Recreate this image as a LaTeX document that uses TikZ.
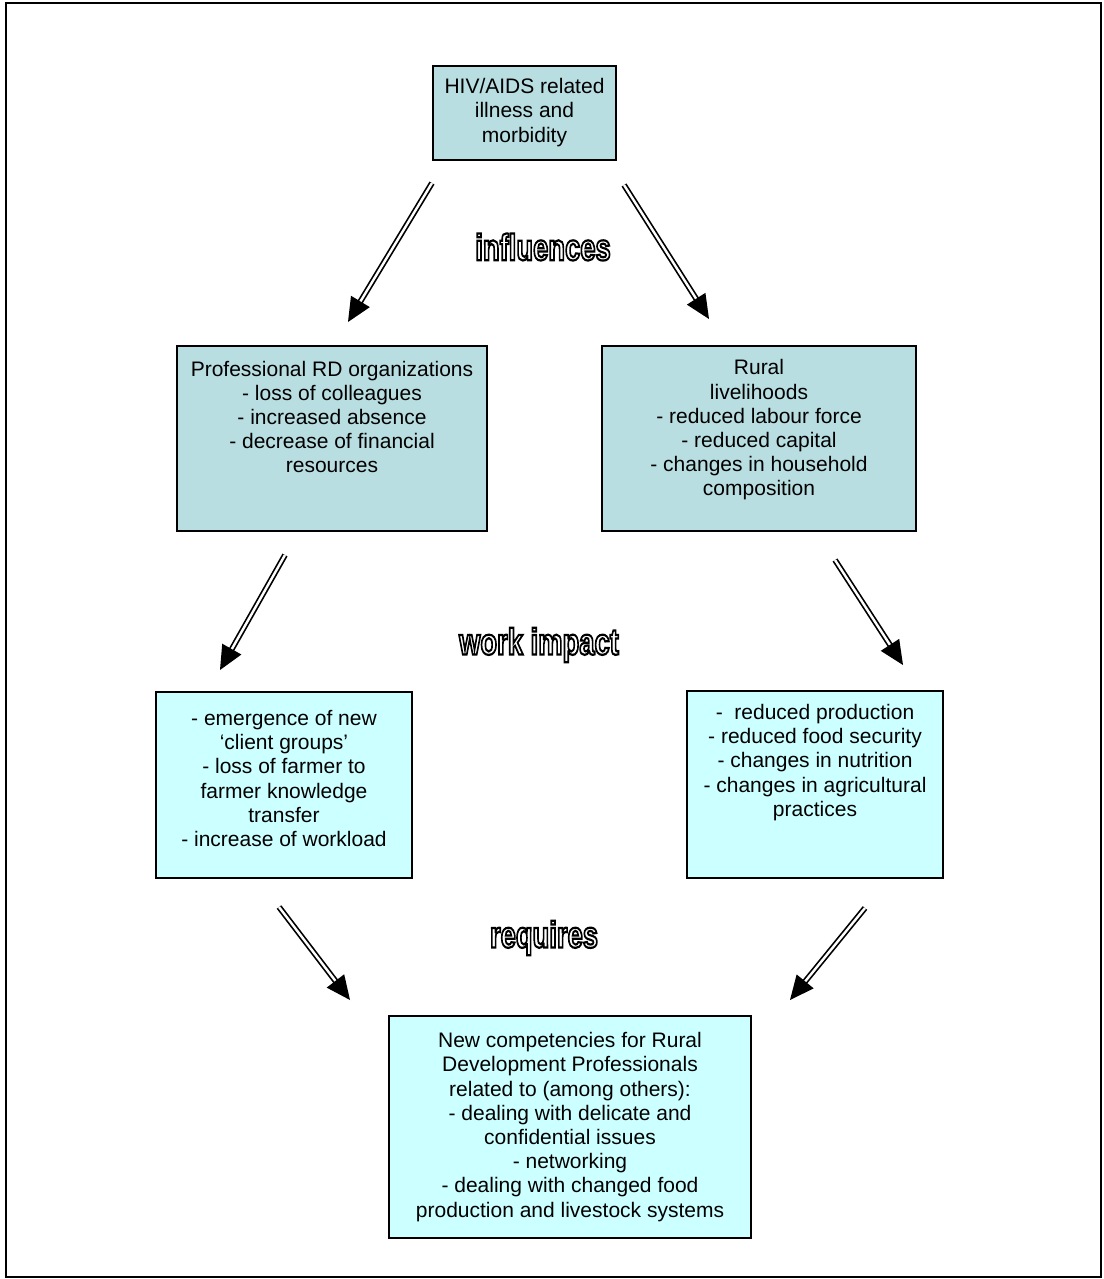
\documentclass[tikz,border=0pt]{standalone}
\usepackage{fontspec}
\setmainfont{Liberation Sans}
\usepackage{graphicx}
\usetikzlibrary{calc}
\definecolor{tealbox}{RGB}{184,222,225}
\definecolor{cyanbox}{RGB}{204,255,255}
\newcommand\outlbl[1]{\scalebox{0.74}[1]{\special{pdf:literal direct 2 Tr 2.2 w 1 g 0 G}#1\special{pdf:literal direct 0 Tr 0 g 0 G}}}
\newcommand\dblarrow[2]{%
  \draw[shaft] (#1) -- ($(#2)!21pt!(#1)$);
  \fill[black] (#2) -- ($($(#2)!24pt!(#1)$)!11pt!90:(#2)$) -- ($($(#2)!24pt!(#1)$)!11pt!-90:(#2)$) -- cycle;}
\begin{document}
\begin{tikzpicture}[x=1pt,y=-1pt,
  boxbase/.style={draw=black, line width=1.3pt, inner sep=0pt},
  tealb/.style={boxbase, fill=tealbox},
  cyanb/.style={boxbase, fill=cyanbox},
  txt/.style={align=center, inner sep=0pt, font=\fontsize{21}{24.2}\selectfont},
  lbl/.style={inner sep=0pt, font=\fontsize{37}{40}\selectfont\bfseries},
  shaft/.style={draw=black, line width=1.7pt, double=white, double distance=2.4pt}]
\useasboundingbox (0,0) rectangle (1103,1279);
\draw[line width=1.5pt] (6,3) rectangle (1101,1277);

% boxes
\node[tealb, minimum width=183pt, minimum height=94pt] (b1) at (524.5,113) {};
\node[txt] (t1) at (524.5,112.5) {HIV/AIDS related\\illness and\\morbidity};

\node[tealb, minimum width=310pt, minimum height=185pt] (b2) at (332,438.5) {};
\node[txt] (t2) at (332,417) {Professional RD organizations\\- loss of colleagues\\- increased absence\\- decrease of financial\\resources};

\node[tealb, minimum width=314pt, minimum height=185pt] (b3) at (759,438.5) {};
\node[txt] (t3) at (759,430) {Rural\\livelihoods\\- reduced labour force\\- reduced capital\\- changes in household\\composition};

\node[cyanb, minimum width=256pt, minimum height=186pt] (b4) at (284,785) {};
\node[txt] (t4) at (284,778.5) {- emergence of new\\`client groups'\\- loss of farmer to\\farmer knowledge\\transfer\\- increase of workload};

\node[cyanb, minimum width=256pt, minimum height=187pt] (b5) at (815,784.5) {};
\node[txt] (t5) at (815,762.5) {-~~reduced production\\- reduced food security\\- changes in nutrition\\- changes in agricultural\\practices};

\node[cyanb, minimum width=362pt, minimum height=222pt] (b6) at (570,1127) {};
\node[txt] (t6) at (570,1127) {New competencies for Rural\\Development Professionals\\related to (among others):\\- dealing with delicate and\\confidential issues\\- networking\\- dealing with changed food\\production and livestock systems};

% labels
\node[lbl] (l1) at (543,247) {\outlbl{influences}};
\node[lbl] (l2) at (539,645) {\outlbl{work impact}};
\node[lbl] (l3) at (544,938) {\outlbl{requires}};

% arrows
\coordinate (a1s) at (432,183); \coordinate (a1e) at (348,322);
\coordinate (a2s) at (624,185); \coordinate (a2e) at (709,319);
\coordinate (a3s) at (285,555); \coordinate (a3e) at (220,670);
\coordinate (a4s) at (835,560); \coordinate (a4e) at (903,665);
\coordinate (a5s) at (279,907); \coordinate (a5e) at (350,1000);
\coordinate (a6s) at (865,908); \coordinate (a6e) at (790,1000);
\dblarrow{a1s}{a1e}
\dblarrow{a2s}{a2e}
\dblarrow{a3s}{a3e}
\dblarrow{a4s}{a4e}
\dblarrow{a5s}{a5e}
\dblarrow{a6s}{a6e}
\end{tikzpicture}
\end{document}
